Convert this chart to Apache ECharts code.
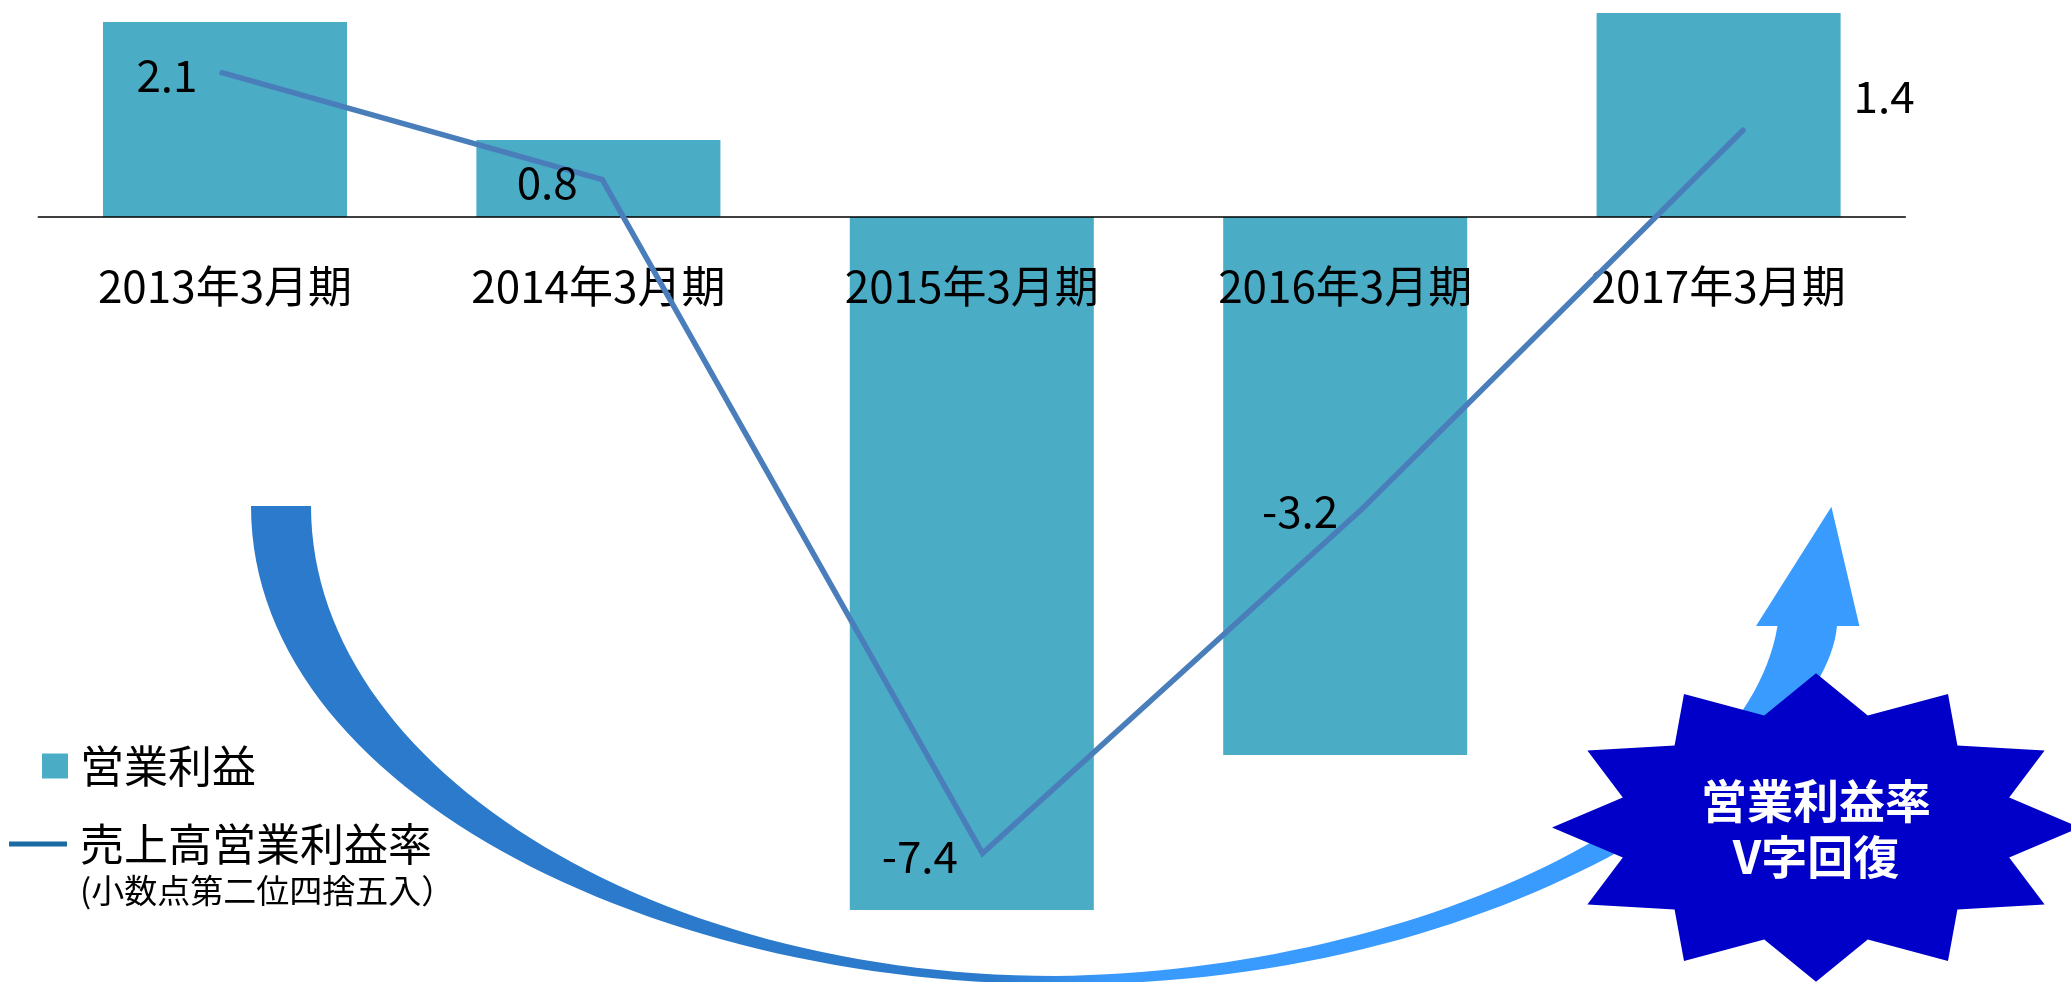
<!DOCTYPE html>
<html><head><meta charset="utf-8">
<script src="https://cdn.jsdelivr.net/npm/echarts/dist/echarts.min.js"></script>
<style>html,body{margin:0;padding:0;background:#fff;overflow:hidden}#c{width:2071px;height:982px}</style>
</head><body><div id="c"></div>
<script>
// ---- data ----
const categories = ['2013年3月期', '2014年3月期', '2015年3月期', '2016年3月期', '2017年3月期'];
const operatingProfit = [19.5, 7.7, -69.3, -53.8, 20.4];   // bar heights (relative units, no axis shown)
const operatingMargin = [2.1, 0.8, -7.4, -3.2, 1.4];       // 売上高営業利益率
const seriesNames = ['営業利益', '売上高営業利益率'];
const noteText = '(小数点第二位四捨五入）';
const badgeLines = ['営業利益率', 'V字回復'];

const FONT = '"Noto Sans CJK JP", "Noto Sans", sans-serif';

function starPoints(cx, cy, rxO, ryO, rxI, ryI, n) {
  const pts = [];
  for (let i = 0; i < 2 * n; i++) {
    const a = Math.PI / 2 - i * Math.PI / n;
    const outer = i % 2 === 0;
    pts.push([cx + (outer ? rxO : rxI) * Math.cos(a), cy - (outer ? ryO : ryI) * Math.sin(a)]);
  }
  return pts;
}
function bez(p0, c1, c2, p3, steps) {
  const out = [];
  for (let k = 1; k <= steps; k++) {
    const t = k / steps, u = 1 - t;
    const a = u * u * u, b = 3 * u * u * t, c = 3 * u * t * t, d = t * t * t;
    out.push([a * p0[0] + b * c1[0] + c * c2[0] + d * p3[0], a * p0[1] + b * c1[1] + c * c2[1] + d * p3[1]]);
  }
  return out;
}
// decorative curved arrow outline
function arrowPoints() {
  let pts = [[251, 506], [311, 506]];
  pts = pts.concat(bez([311, 506], [311, 766], [650, 976], [1055, 976], 60));
  pts = pts.concat(bez([1055, 976], [1400, 972], [1745, 820], [1777.5, 626], 60));
  pts.push([1756, 626], [1831.4, 506.7], [1859.4, 626], [1837, 626]);
  pts = pts.concat(bez([1837, 626], [1825, 760], [1500, 989], [1055, 984], 60));
  pts = pts.concat(bez([1055, 984], [650, 984], [251, 788], [251, 506], 60));
  return pts;
}

const chart = echarts.init(document.getElementById('c'), null, { renderer: 'canvas' });
chart.setOption({
  animation: false,
  backgroundColor: '#ffffff',
  textStyle: { fontFamily: FONT },
  grid: [
    { left: 38.3, width: 1867, top: 0, height: 982, containLabel: false, outerBoundsMode: 'none' },
    { left: 31.9, width: 1901.25, top: 0, height: 982, containLabel: false, outerBoundsMode: 'none' },
    { left: 38.3, width: 1867, top: 0, height: 217, containLabel: false, outerBoundsMode: 'none' }
  ],
  xAxis: [
    { type: 'category', gridIndex: 0, data: categories, show: false },
    { type: 'category', gridIndex: 1, data: categories, show: false },
    {
      type: 'category', gridIndex: 2, data: categories, position: 'bottom', z: 2,
      axisLine: { show: true, onZero: false, lineStyle: { color: '#000', width: 1.5 } },
      axisTick: { show: false },
      axisLabel: { interval: 0, margin: 47, fontSize: 44, color: '#000', fontFamily: FONT },
      splitLine: { show: false }
    }
  ],
  yAxis: [
    { type: 'value', gridIndex: 0, min: -76.5, max: 21.7, show: false, splitLine: { show: false } },
    { type: 'value', gridIndex: 1, min: -8.966, max: 2.985, show: false, splitLine: { show: false } },
    { type: 'value', gridIndex: 2, min: 0, max: 1, show: false, splitLine: { show: false } }
  ],
  legend: {
    orient: 'vertical', left: 9, top: 744, padding: 0, itemGap: 34,
    itemWidth: 66, itemHeight: 25, selectedMode: false,
    textStyle: { fontSize: 44, color: '#000', fontFamily: FONT },
    data: [
      { name: seriesNames[0], icon: 'path://M0,0M66,25M33,0L59,0L59,25L33,25Z', itemStyle: { color: '#4BACC6', borderWidth: 0 } },
      { name: seriesNames[1], icon: 'path://M0,0M66,25M0,10L58,10L58,15L0,15Z', itemStyle: { color: '#1B6BA3', borderWidth: 0 } }
    ]
  },
  series: [
    {
      name: seriesNames[0], type: 'bar', xAxisIndex: 0, yAxisIndex: 0, z: 1,
      data: operatingProfit, barCategoryGap: '34.65%',
      itemStyle: { color: '#4BACC6' }
    },
    {
      name: seriesNames[1], type: 'line', xAxisIndex: 1, yAxisIndex: 1, z: 3,
      symbol: 'circle', symbolSize: 1, showSymbol: true,
      lineStyle: { color: '#4A7EBB', width: 5.5, cap: 'round', join: 'miter' },
      itemStyle: { color: 'rgba(74,126,187,0)', borderWidth: 0 },
      label: { show: true, position: 'left', distance: 24, offset: [0, 3], fontSize: 44, color: '#000', fontFamily: FONT },
      data: operatingMargin.map((v, i) => i === operatingMargin.length - 1
        ? { value: v, label: { position: 'right', distance: 110, offset: [0, -34] } }
        : v)
    }
  ],
  graphic: [
    {
      type: 'polygon', z: 0,
      shape: { points: arrowPoints() },
      style: {
        fill: new echarts.graphic.LinearGradient(0, 0, 1, 0, [
          { offset: 0, color: '#2B7ACC' },
          { offset: 0.46, color: '#2B7ACC' },
          { offset: 0.54, color: '#3A9BFF' },
          { offset: 1, color: '#3A9BFF' }
        ])
      }
    },
    {
      type: 'polygon', z: 10,
      shape: { points: starPoints(1816, 827.5, 264, 154.2, 200, 116, 12) },
      style: { fill: '#0000C8' }
    },
    {
      type: 'text', z: 11, x: 1816, y: 829,
      style: {
        text: badgeLines.join('\n'), fill: '#fff', fontSize: 46, fontWeight: 'bold',
        fontFamily: FONT, align: 'center', verticalAlign: 'middle', lineHeight: 56
      }
    },
    {
      type: 'text', z: 11, x: 80, y: 890,
      style: { text: noteText, fill: '#000', fontSize: 33, fontFamily: FONT, align: 'left', verticalAlign: 'middle' }
    }
  ]
});
</script>
</body></html>
